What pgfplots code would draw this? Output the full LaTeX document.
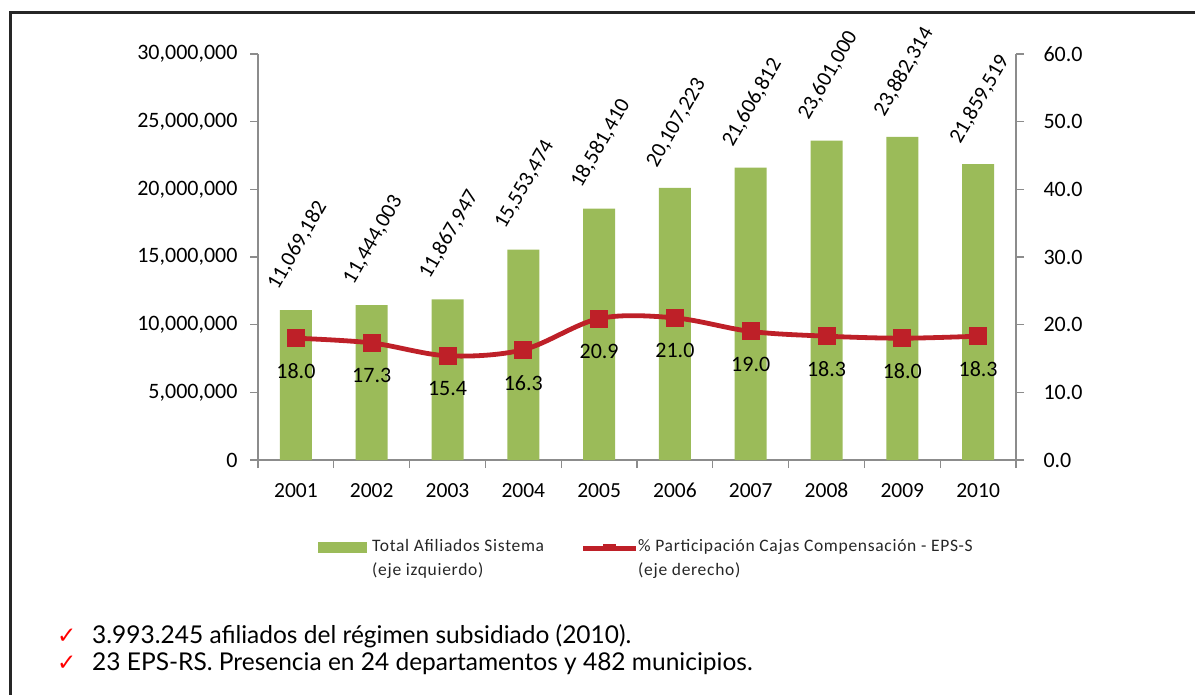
\documentclass[border=0pt]{standalone}
\usepackage{pgfplots}
\pgfplotsset{compat=1.18}
\usepackage{pgfplotstable}
\usepackage{fontspec}
\setmainfont{Carlito}
\newfontfamily\gill{Lato}
\newfontfamily\dejavu{DejaVu Sans}
\definecolor{barg}{RGB}{155,187,89}
\definecolor{liner}{RGB}{190,32,40}
\definecolor{axg}{RGB}{140,140,140}

\pgfplotstableread{
x y lab
0 11069182 11,069,182
1 11444003 11,444,003
2 11867947 11,867,947
3 15553474 15,553,474
4 18581410 18,581,410
5 20107223 20,107,223
6 21606812 21,606,812
7 23601000 23,601,000
8 23882314 23,882,314
9 21859519 21,859,519
}\bars

\pgfplotstableread{
x y lab
0 18.0 18.0
1 17.3 17.3
2 15.4 15.4
3 16.3 16.3
4 20.9 20.9
5 21.0 21.0
6 19.0 19.0
7 18.3 18.3
8 18.0 18.0
9 18.3 18.3
}\pct

\begin{document}
\begin{tikzpicture}
\path[use as bounding box] (0,0) rectangle (1195bp,-695bp);
% frame
\draw[line width=3bp, black!85] (10bp,-700bp) -- (10bp,-12bp) -- (1200bp,-12bp);

\begin{axis}[
  at={(258bp,-460bp)}, anchor=south west,
  scale only axis, width=758bp, height=406bp,
  xmin=-0.5, xmax=9.5, ymin=0, ymax=30000000,
  axis y line*=left, axis x line*=bottom,
  axis line style={axg, line width=1.2bp},
  tick style={axg, line width=1.2bp},
  tick align=outside,
  xtick={0,...,9},
  xticklabels={2001,2002,2003,2004,2005,2006,2007,2008,2009,2010},
  minor xtick={-0.5,0.5,...,9.5},
  major x tick style={draw=none},
  minor tick length=8bp,
  major tick length=8bp,
  ytick={0,5000000,10000000,15000000,20000000,25000000,30000000},
  scaled y ticks=false,
  /pgf/number format/fixed,
  /pgf/number format/1000 sep={,},
  /pgf/number format/assume math mode=true,
  yticklabel style={font=\fontsize{22bp}{24bp}\selectfont, xshift=-9bp},
  xticklabel style={font=\fontsize{21.5bp}{24bp}\selectfont, text height=15bp, text depth=0pt, yshift=-11bp},
  ybar, bar width=32bp,
  nodes near coords,
  point meta=explicit symbolic,
  every node near coord/.append style={font=\fontsize{21.5bp}{24bp}\selectfont, anchor=center, xshift=1.5bp, yshift=65bp, rotate=60, inner sep=0pt},
  clip=false,
]
\addplot[fill=barg, draw=none] table[x=x, y=y, meta=lab] {\bars};
\end{axis}

\begin{axis}[
  at={(258bp,-460bp)}, anchor=south west,
  scale only axis, width=758bp, height=406bp,
  xmin=-0.5, xmax=9.5, ymin=0, ymax=60,
  axis y line*=right, axis x line=none,
  axis line style={axg, line width=1.2bp},
  tick style={axg, line width=1.2bp},
  tick align=outside, major tick length=8bp,
  ytick={0,10,...,60},
  /pgf/number format/fixed,
  /pgf/number format/fixed zerofill,
  /pgf/number format/precision=1,
  /pgf/number format/assume math mode=true,
  yticklabel style={font=\fontsize{22bp}{24bp}\selectfont, xshift=16bp},
  nodes near coords,
  point meta=explicit symbolic,
  every node near coord/.append style={font=\fontsize{22bp}{24bp}\selectfont, text=black, anchor=center, yshift=-33bp},
  clip=false,
]
\addplot[liner, line width=4.8bp, smooth, tension=0.55, mark=square*, mark size=8.5bp, mark options={fill=liner, draw=liner, line width=0pt}] table[x=x, y=y, meta=lab] {\pct};
\end{axis}

% legend
\fill[barg] (318bp,-542bp) rectangle (367bp,-553bp);
\node[anchor=north west, inner sep=0pt, align=left, font=\fontsize{17.5bp}{24bp}\selectfont\addfontfeatures{LetterSpace=4}, text=black!85] at (372bp,-539bp) {Total Afiliados Sistema\\(eje izquierdo)};
\draw[liner, line width=5bp] (583bp,-548bp) -- (636bp,-548bp);
\fill[liner] (603bp,-544bp) rectangle (616bp,-551bp);
\node[anchor=north west, inner sep=0pt, align=left, font=\fontsize{17.5bp}{24bp}\selectfont\addfontfeatures{LetterSpace=4}, text=black!85] at (638bp,-539bp) {\% Participación Cajas Compensación - EPS-S\\(eje derecho)};

% bullet text
\node[anchor=base west, inner sep=0pt, text=red, font=\dejavu\fontsize{23bp}{25bp}\selectfont] at (57bp,-643bp) {✓};
\node[anchor=base west, inner sep=0pt, text=red, font=\dejavu\fontsize{23bp}{25bp}\selectfont] at (57bp,-670bp) {✓};
\node[anchor=base west, inner sep=0pt, font=\gill\fontsize{24.5bp}{26bp}\selectfont] at (92bp,-643bp) {3.993.245 afiliados del régimen subsidiado (2010).};
\node[anchor=base west, inner sep=0pt, font=\gill\fontsize{24.5bp}{26bp}\selectfont] at (92bp,-670bp) {23 EPS-RS. Presencia en 24 departamentos y 482 municipios.};
\end{tikzpicture}
\end{document}
